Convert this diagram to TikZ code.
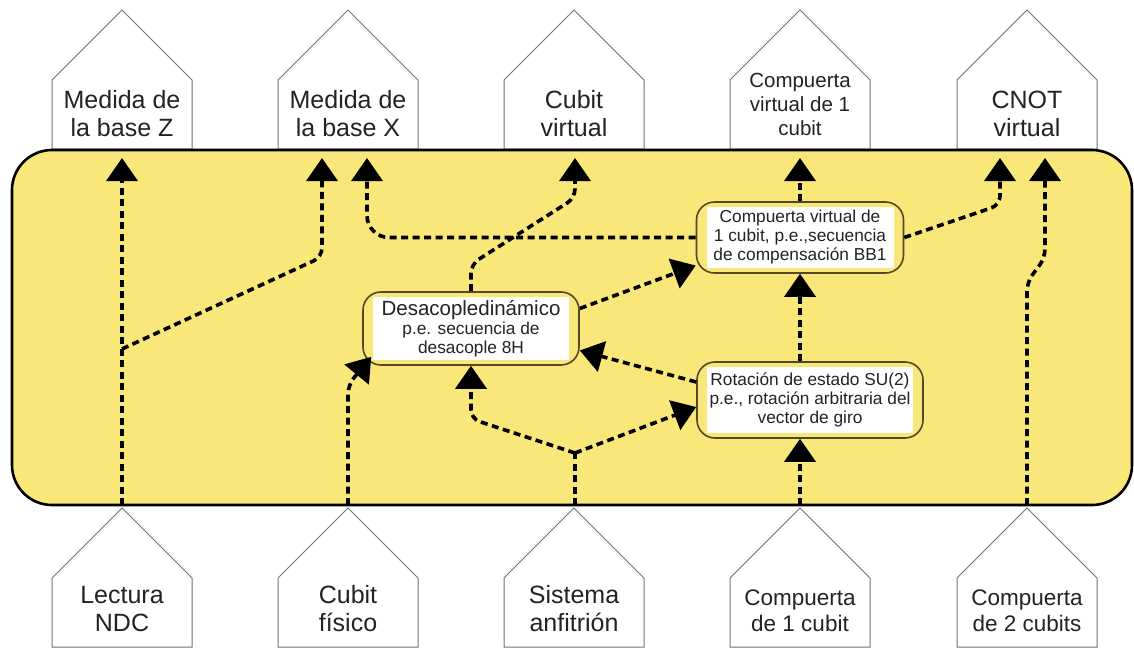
\documentclass[tikz,border=0pt]{standalone}
\usepackage{fontspec}
\setmainfont{Liberation Sans}
\usetikzlibrary{arrows.meta,calc}
\definecolor{bgyellow}{RGB}{250,231,122}
\definecolor{boxedge}{RGB}{85,72,40}
\definecolor{txt}{RGB}{35,35,35}
\definecolor{houseedge}{RGB}{115,115,115}
\tikzset{
  flow/.style={line width=3.6pt, dash pattern=on 7pt off 4.5pt,
    -{Triangle[width=31pt,length=23pt]}, rounded corners=9pt},
  flowplain/.style={line width=3.6pt, dash pattern=on 7pt off 4.5pt, rounded corners=9pt},
  houseshape/.pic={\draw[draw=houseedge, line width=1pt, fill=white]
     (-70,69) -- (-70,0) -- (0,-70) -- (70,0) -- (70,69) -- cycle;},
  htext/.style={text=txt, align=center, font=\fontsize{25}{28}\selectfont, inner sep=0pt},
  hsmall/.style={htext, font=\fontsize{20.5}{24}\selectfont},
  hmid/.style={htext, font=\fontsize{22.5}{26}\selectfont},
  mbox/.style={draw=boxedge, line width=1.6pt, fill=bgyellow, rounded corners=18pt},
  mtext/.style={fill=white, text=txt, align=center, inner sep=2pt,
     font=\fontsize{17.3}{19}\selectfont},
}
\begin{document}
\begin{tikzpicture}[x=1pt,y=-1pt]
\useasboundingbox (0,0) rectangle (1134,648);
% houses
\foreach \cx in {122,348,574,800,1027}{
  \pic at (\cx,80) {houseshape};
  \pic at (\cx,578) {houseshape};
}
% main yellow area
\node[draw=black, line width=2.6pt, fill=bgyellow, rounded corners=40pt,
  minimum width=1120pt, minimum height=355pt, inner sep=0pt] (ybox) at (572,327.5) {};
% top labels
\node[htext] (mz) at (122,114) {Medida de\\la base Z};
\node[htext] (mx) at (348,114) {Medida de\\la base X};
\node[htext] (cv) at (574,114) {Cubit\\virtual};
\node[hsmall] (cg) at (800,104) {Compuerta\\virtual de 1\\cubit};
\node[htext] (cn) at (1027,114) {CNOT\\virtual};
% bottom labels
\node[htext] (ndc) at (122,609) {Lectura\\NDC};
\node[htext] (cf) at (348,609) {Cubit\\físico};
\node[htext] (sa) at (574,609) {Sistema\\anfitrión};
\node[hmid] (c1) at (800,611) {Compuerta\\de 1 cubit};
\node[hmid] (c2) at (1027,611) {Compuerta\\de 2 cubits};
% middle boxes
\node[mbox, minimum width=216pt, minimum height=73pt] (des) at (471,328.5) {};
\node[mtext, minimum width=196pt, minimum height=63pt] (destxt) at (des.center)
  {{\fontsize{20.5}{22}\selectfont Desacopledinámico}\\p.e. secuencia de\\desacople 8H};
\node[mbox, minimum width=207pt, minimum height=71pt] (comp) at (800,237.5) {};
\node[mtext, minimum width=187pt, minimum height=61pt] (comptxt) at (comp.center)
  {Compuerta virtual de\\1 cubit, p.e.,secuencia\\de compensación BB1};
\node[mbox, minimum width=226pt, minimum height=76pt] (rot) at (810,400) {};
\node[mtext, minimum width=206pt, minimum height=66pt] (rottxt) at (rot.center)
  {Rotación de estado SU(2)\\p.e., rotación arbitraria del\\vector de giro};
% connector end points
\coordinate (mzin) at (122,158);
\coordinate (mxin1) at (322,158);
\coordinate (mxin2) at (367,158);
\coordinate (cvin) at (575,158);
\coordinate (cgin) at (800,158);
\coordinate (cnin1) at (1000,158);
\coordinate (cnin2) at (1045,158);
\coordinate (ndcout) at (122,505);
\coordinate (cfout) at (348,505);
\coordinate (saout) at (575,505);
\coordinate (c1out) at (800,505);
\coordinate (c2out) at (1027,505);
\coordinate (brz) at (122,349);
\coordinate (sasplit) at (575,453);
% connectors
\draw[flow] (ndcout) -- (mzin);
\draw[flow] (brz) -- (322,257) -- (mxin1);
\draw[flow, rounded corners=22pt] (comp.west) -- (comp.west -| mxin2) -- (mxin2);
\draw[flow] (des.north) -- ++(0,-27) -- (575,198) -- (cvin);
\draw[flow] (comp.north) -- (cgin);
\draw[flow] (comp.east) -- (1000,205) -- (cnin1);
\draw[flow] (c2out) -- (1027,282) -- (1045,258) -- (cnin2);
\draw[flow] (cfout) -- (348,385) -- ($(des.south west)+(9,-9)$);
\draw[flowplain] (saout) -- (sasplit);
\draw[flow] (sasplit) -- ($(des.south)+(0,53)$) -- (des.south);
\draw[flow] (sasplit) -- ($(rot.west)+(0,7)$);
\draw[flow] ($(rot.west)+(0,-18)$) -- ($(des.east)+(0,22)$);
\draw[flow] ($(des.east)+(0,-20)$) -- ($(comp.west)+(0,28)$);
\draw[flow] (rot.north -| comp.south) -- (comp.south);
\draw[flow] (c1out) -- (rot.south -| c1out);
\end{tikzpicture}
\end{document}
